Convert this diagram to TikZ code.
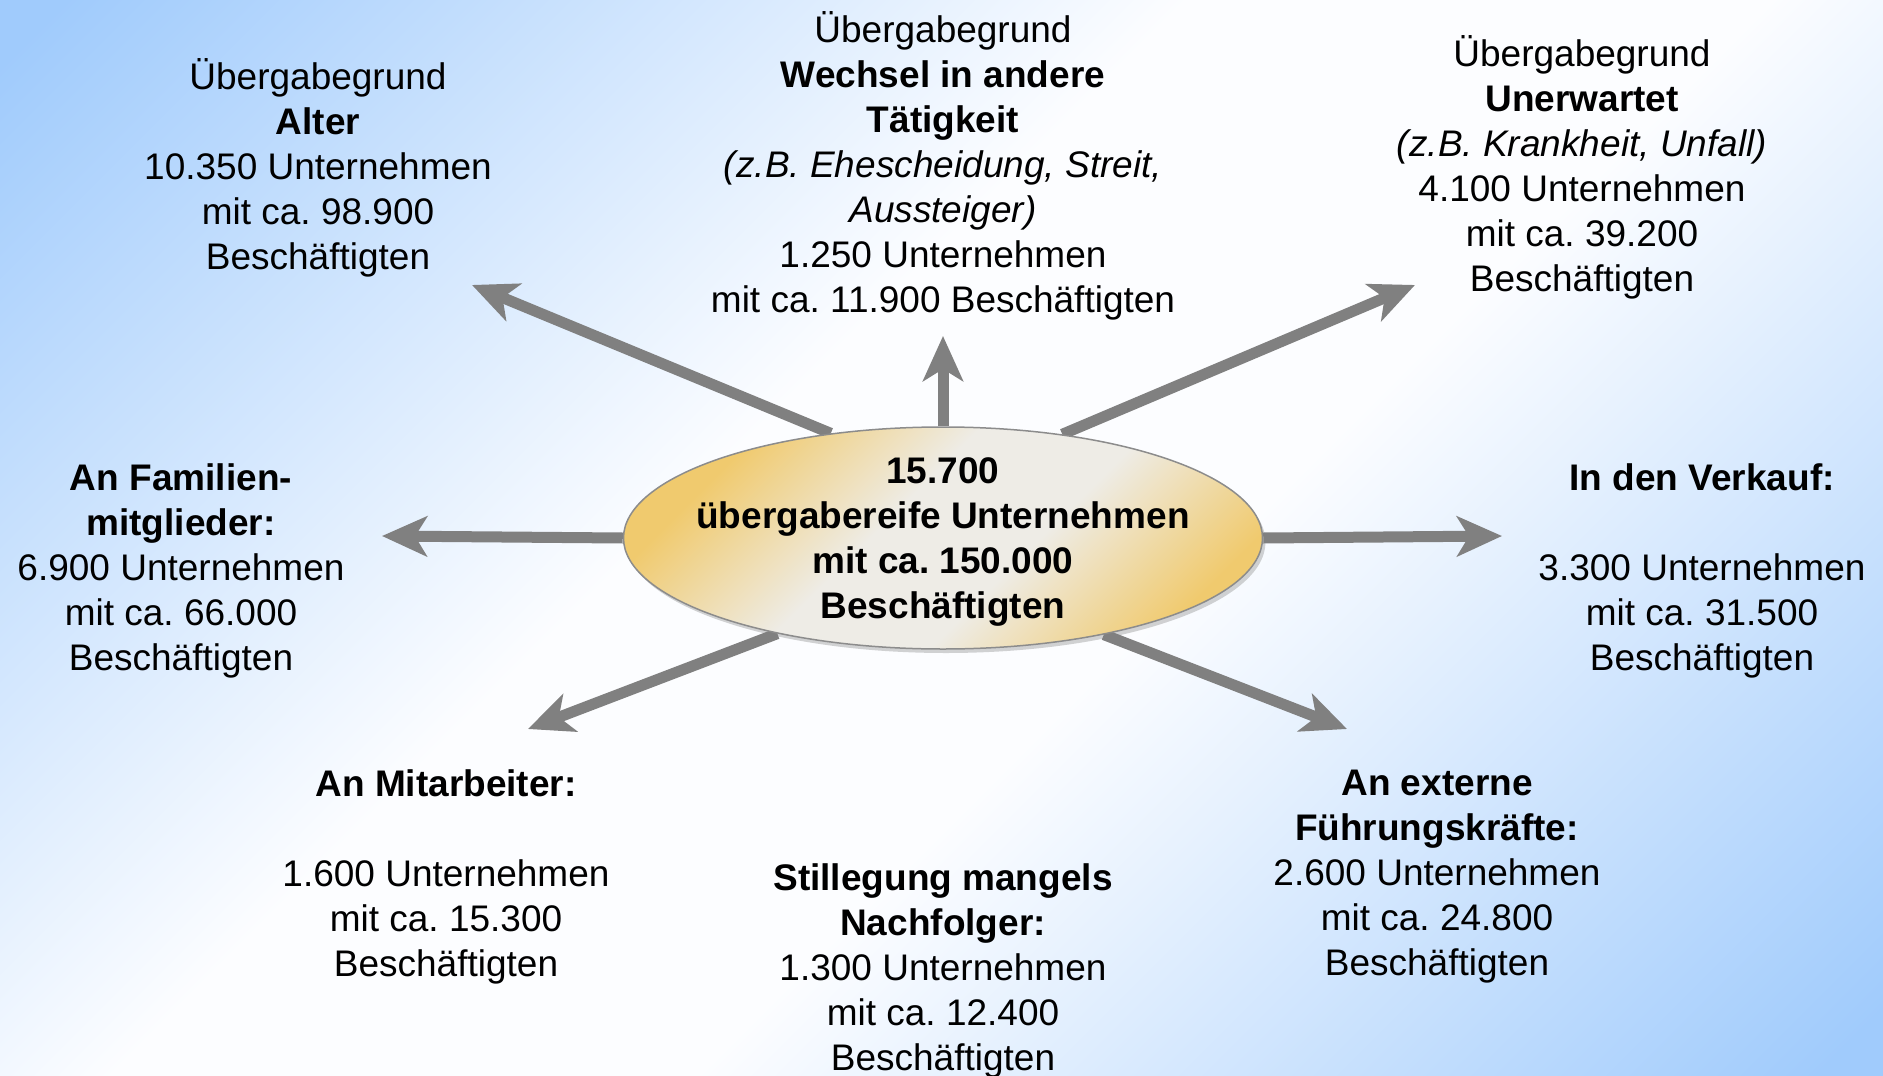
\documentclass[tikz,border=0pt]{standalone}
\usepackage{fontspec}
\setmainfont{Liberation Sans}
\usetikzlibrary{shapes.geometric,arrows.meta,shadows}
\pgfdeclarelayer{bg}
\pgfdeclarelayer{arrowlayer}
\pgfsetlayers{bg,arrowlayer,main}
\definecolor{bgblue}{RGB}{160,203,252}
\definecolor{bgwhite}{RGB}{252,253,255}
\definecolor{goldc}{RGB}{240,202,110}
\definecolor{palec}{RGB}{238,236,230}
\definecolor{arrgray}{RGB}{128,128,128}
\pgfdeclarehorizontalshading{bgshade}{100bp}{color(0bp)=(bgblue); color(16bp)=(bgblue); color(43bp)=(bgwhite); color(57bp)=(bgwhite); color(84bp)=(bgblue); color(100bp)=(bgblue)}
\pgfdeclarehorizontalshading{ellshade}{100bp}{color(0bp)=(goldc); color(26bp)=(goldc); color(44bp)=(palec); color(58bp)=(palec); color(76bp)=(goldc); color(100bp)=(goldc)}
\frenchspacing
\begin{document}
\begin{tikzpicture}[x=1pt,y=-1pt,
  txt/.style={align=center, inner sep=0pt, font=\fontsize{37}{45}\selectfont},
  arr/.style={draw=arrgray, line width=11pt, -{Stealth[length=45pt,width=40pt,inset=12pt]}}]
\begin{pgfonlayer}{bg}
\shade[shading=bgshade, shading angle=-45] (0,0) rectangle (1883,1076);
\end{pgfonlayer}
\useasboundingbox (0,0) rectangle (1883,1076);

\node[ellipse, minimum width=639pt, minimum height=222pt, inner sep=0pt, draw=black!45, line width=1.5pt,
  shading=ellshade, shading angle=-45,
  drop shadow={shadow xshift=3pt, shadow yshift=-4pt, opacity=0.35}] (c) at (943,538) {};
\node[txt, font=\fontsize{37}{45}\selectfont\bfseries] (ct) at (943,542) {15.700\\übergabereife Unternehmen\\mit ca. 150.000\\Beschäftigten};

\node[txt] (alter) at (318,168) {Übergabegrund\\\textbf{Alter}\\10.350 Unternehmen\\mit ca. 98.900\\Beschäftigten};
\node[txt] (wechsel) at (943,166) {Übergabegrund\\\textbf{Wechsel in andere}\\\textbf{Tätigkeit}\\\textit{(z.B. Ehescheidung, Streit,}\\\textit{Aussteiger)}\\1.250 Unternehmen\\mit ca. 11.900 Beschäftigten};
\node[txt] (unerw) at (1582,167) {Übergabegrund\\\textbf{Unerwartet}\\\textit{(z.B. Krankheit, Unfall)}\\4.100 Unternehmen\\mit ca. 39.200\\Beschäftigten};
\node[txt] (fam) at (181,571) {\textbf{An Familien-}\\\textbf{mitglieder:}\\6.900 Unternehmen\\mit ca. 66.000\\Beschäftigten};
\node[txt] (verk) at (1702,571) {\textbf{In den Verkauf:}\\[45pt]3.300 Unternehmen\\mit ca. 31.500\\Beschäftigten};
\node[txt] (mitarb) at (446,877) {\textbf{An Mitarbeiter:}\\[45pt]1.600 Unternehmen\\mit ca. 15.300\\Beschäftigten};
\node[txt] (still) at (943,971) {\textbf{Stillegung mangels}\\\textbf{Nachfolger:}\\1.300 Unternehmen\\mit ca. 12.400\\Beschäftigten};
\node[txt] (ext) at (1437,877) {\textbf{An externe}\\\textbf{Führungskräfte:}\\2.600 Unternehmen\\mit ca. 24.800\\Beschäftigten};

\coordinate (t1) at (472,285);
\coordinate (t2) at (943,336);
\coordinate (t3) at (1415,285);
\coordinate (t4) at (382,536);
\coordinate (t5) at (1502,536);
\coordinate (t6) at (528,729);
\coordinate (t7) at (1347,729);

\begin{pgfonlayer}{arrowlayer}
\draw[arr] (c.137.8) -- (t1);
\draw[arr] (c.90) -- (t2);
\draw[arr] (c.41.2) -- (t3);
\draw[arr] (c.180) -- (t4);
\draw[arr] (c.0) -- (t5);
\draw[arr] (c.210.6) -- (t6);
\draw[arr] (c.329.4) -- (t7);
\end{pgfonlayer}
\end{tikzpicture}
\end{document}
